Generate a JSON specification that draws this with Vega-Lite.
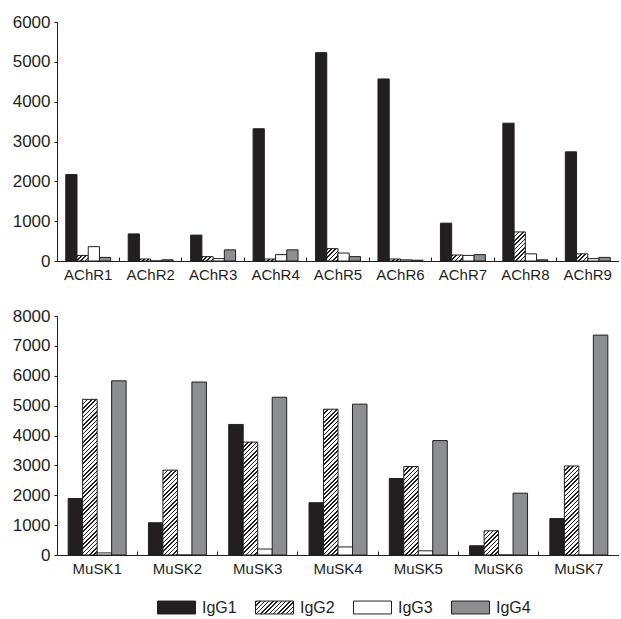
{
 "$schema": "https://vega.github.io/schema/vega-lite/v6.json",
 "padding": {"top": 13, "left": 12, "right": 0, "bottom": 0},
 "background": "white",
 "spacing": 25,
 "params": [
  {"name": "hst", "expr": "[{offset:0,color:'#231f20'},{offset:0.0095,color:'#231f20'},{offset:0.0095,color:'#fff'},{offset:0.025,color:'#fff'},{offset:0.025,color:'#231f20'},{offset:0.0345,color:'#231f20'},{offset:0.0345,color:'#fff'},{offset:0.05,color:'#fff'},{offset:0.05,color:'#231f20'},{offset:0.0595,color:'#231f20'},{offset:0.0595,color:'#fff'},{offset:0.075,color:'#fff'},{offset:0.075,color:'#231f20'},{offset:0.0845,color:'#231f20'},{offset:0.0845,color:'#fff'},{offset:0.1,color:'#fff'},{offset:0.1,color:'#231f20'},{offset:0.1095,color:'#231f20'},{offset:0.1095,color:'#fff'},{offset:0.125,color:'#fff'},{offset:0.125,color:'#231f20'},{offset:0.1345,color:'#231f20'},{offset:0.1345,color:'#fff'},{offset:0.15,color:'#fff'},{offset:0.15,color:'#231f20'},{offset:0.1595,color:'#231f20'},{offset:0.1595,color:'#fff'},{offset:0.175,color:'#fff'},{offset:0.175,color:'#231f20'},{offset:0.1845,color:'#231f20'},{offset:0.1845,color:'#fff'},{offset:0.2,color:'#fff'},{offset:0.2,color:'#231f20'},{offset:0.2095,color:'#231f20'},{offset:0.2095,color:'#fff'},{offset:0.225,color:'#fff'},{offset:0.225,color:'#231f20'},{offset:0.2345,color:'#231f20'},{offset:0.2345,color:'#fff'},{offset:0.25,color:'#fff'},{offset:0.25,color:'#231f20'},{offset:0.2595,color:'#231f20'},{offset:0.2595,color:'#fff'},{offset:0.275,color:'#fff'},{offset:0.275,color:'#231f20'},{offset:0.2845,color:'#231f20'},{offset:0.2845,color:'#fff'},{offset:0.3,color:'#fff'},{offset:0.3,color:'#231f20'},{offset:0.3095,color:'#231f20'},{offset:0.3095,color:'#fff'},{offset:0.325,color:'#fff'},{offset:0.325,color:'#231f20'},{offset:0.3345,color:'#231f20'},{offset:0.3345,color:'#fff'},{offset:0.35,color:'#fff'},{offset:0.35,color:'#231f20'},{offset:0.3595,color:'#231f20'},{offset:0.3595,color:'#fff'},{offset:0.375,color:'#fff'},{offset:0.375,color:'#231f20'},{offset:0.3845,color:'#231f20'},{offset:0.3845,color:'#fff'},{offset:0.4,color:'#fff'},{offset:0.4,color:'#231f20'},{offset:0.4095,color:'#231f20'},{offset:0.4095,color:'#fff'},{offset:0.425,color:'#fff'},{offset:0.425,color:'#231f20'},{offset:0.4345,color:'#231f20'},{offset:0.4345,color:'#fff'},{offset:0.45,color:'#fff'},{offset:0.45,color:'#231f20'},{offset:0.4595,color:'#231f20'},{offset:0.4595,color:'#fff'},{offset:0.475,color:'#fff'},{offset:0.475,color:'#231f20'},{offset:0.4845,color:'#231f20'},{offset:0.4845,color:'#fff'},{offset:0.5,color:'#fff'},{offset:0.5,color:'#231f20'},{offset:0.5095,color:'#231f20'},{offset:0.5095,color:'#fff'},{offset:0.525,color:'#fff'},{offset:0.525,color:'#231f20'},{offset:0.5345,color:'#231f20'},{offset:0.5345,color:'#fff'},{offset:0.55,color:'#fff'},{offset:0.55,color:'#231f20'},{offset:0.5595,color:'#231f20'},{offset:0.5595,color:'#fff'},{offset:0.575,color:'#fff'},{offset:0.575,color:'#231f20'},{offset:0.5845,color:'#231f20'},{offset:0.5845,color:'#fff'},{offset:0.6,color:'#fff'},{offset:0.6,color:'#231f20'},{offset:0.6095,color:'#231f20'},{offset:0.6095,color:'#fff'},{offset:0.625,color:'#fff'},{offset:0.625,color:'#231f20'},{offset:0.6345,color:'#231f20'},{offset:0.6345,color:'#fff'},{offset:0.65,color:'#fff'},{offset:0.65,color:'#231f20'},{offset:0.6595,color:'#231f20'},{offset:0.6595,color:'#fff'},{offset:0.675,color:'#fff'},{offset:0.675,color:'#231f20'},{offset:0.6845,color:'#231f20'},{offset:0.6845,color:'#fff'},{offset:0.7,color:'#fff'},{offset:0.7,color:'#231f20'},{offset:0.7095,color:'#231f20'},{offset:0.7095,color:'#fff'},{offset:0.725,color:'#fff'},{offset:0.725,color:'#231f20'},{offset:0.7345,color:'#231f20'},{offset:0.7345,color:'#fff'},{offset:0.75,color:'#fff'},{offset:0.75,color:'#231f20'},{offset:0.7595,color:'#231f20'},{offset:0.7595,color:'#fff'},{offset:0.775,color:'#fff'},{offset:0.775,color:'#231f20'},{offset:0.7845,color:'#231f20'},{offset:0.7845,color:'#fff'},{offset:0.8,color:'#fff'},{offset:0.8,color:'#231f20'},{offset:0.8095,color:'#231f20'},{offset:0.8095,color:'#fff'},{offset:0.825,color:'#fff'},{offset:0.825,color:'#231f20'},{offset:0.8345,color:'#231f20'},{offset:0.8345,color:'#fff'},{offset:0.85,color:'#fff'},{offset:0.85,color:'#231f20'},{offset:0.8595,color:'#231f20'},{offset:0.8595,color:'#fff'},{offset:0.875,color:'#fff'},{offset:0.875,color:'#231f20'},{offset:0.8845,color:'#231f20'},{offset:0.8845,color:'#fff'},{offset:0.9,color:'#fff'},{offset:0.9,color:'#231f20'},{offset:0.9095,color:'#231f20'},{offset:0.9095,color:'#fff'},{offset:0.925,color:'#fff'},{offset:0.925,color:'#231f20'},{offset:0.9345,color:'#231f20'},{offset:0.9345,color:'#fff'},{offset:0.95,color:'#fff'},{offset:0.95,color:'#231f20'},{offset:0.9595,color:'#231f20'},{offset:0.9595,color:'#fff'},{offset:0.975,color:'#fff'},{offset:0.975,color:'#231f20'},{offset:0.9845,color:'#231f20'},{offset:0.9845,color:'#fff'},{offset:1,color:'#fff'}]"}
 ],
 "datasets": {
  "achr": [
   {"g": "AChR1", "iso": "IgG1", "v": 2170}, {"g": "AChR1", "iso": "IgG2", "v": 140}, {"g": "AChR1", "iso": "IgG3", "v": 360}, {"g": "AChR1", "iso": "IgG4", "v": 90},
   {"g": "AChR2", "iso": "IgG1", "v": 680}, {"g": "AChR2", "iso": "IgG2", "v": 50}, {"g": "AChR2", "iso": "IgG3", "v": 0}, {"g": "AChR2", "iso": "IgG4", "v": 30},
   {"g": "AChR3", "iso": "IgG1", "v": 650}, {"g": "AChR3", "iso": "IgG2", "v": 110}, {"g": "AChR3", "iso": "IgG3", "v": 60}, {"g": "AChR3", "iso": "IgG4", "v": 280},
   {"g": "AChR4", "iso": "IgG1", "v": 3320}, {"g": "AChR4", "iso": "IgG2", "v": 50}, {"g": "AChR4", "iso": "IgG3", "v": 160}, {"g": "AChR4", "iso": "IgG4", "v": 280},
   {"g": "AChR5", "iso": "IgG1", "v": 5230}, {"g": "AChR5", "iso": "IgG2", "v": 310}, {"g": "AChR5", "iso": "IgG3", "v": 200}, {"g": "AChR5", "iso": "IgG4", "v": 110},
   {"g": "AChR6", "iso": "IgG1", "v": 4570}, {"g": "AChR6", "iso": "IgG2", "v": 50}, {"g": "AChR6", "iso": "IgG3", "v": 30}, {"g": "AChR6", "iso": "IgG4", "v": 20},
   {"g": "AChR7", "iso": "IgG1", "v": 950}, {"g": "AChR7", "iso": "IgG2", "v": 150}, {"g": "AChR7", "iso": "IgG3", "v": 140}, {"g": "AChR7", "iso": "IgG4", "v": 160},
   {"g": "AChR8", "iso": "IgG1", "v": 3460}, {"g": "AChR8", "iso": "IgG2", "v": 730}, {"g": "AChR8", "iso": "IgG3", "v": 180}, {"g": "AChR8", "iso": "IgG4", "v": 30},
   {"g": "AChR9", "iso": "IgG1", "v": 2740}, {"g": "AChR9", "iso": "IgG2", "v": 180}, {"g": "AChR9", "iso": "IgG3", "v": 60}, {"g": "AChR9", "iso": "IgG4", "v": 90}
  ],
  "musk": [
   {"g": "MuSK1", "iso": "IgG1", "v": 1890}, {"g": "MuSK1", "iso": "IgG2", "v": 5210}, {"g": "MuSK1", "iso": "IgG3", "v": 70}, {"g": "MuSK1", "iso": "IgG4", "v": 5830},
   {"g": "MuSK2", "iso": "IgG1", "v": 1080}, {"g": "MuSK2", "iso": "IgG2", "v": 2840}, {"g": "MuSK2", "iso": "IgG3", "v": 0}, {"g": "MuSK2", "iso": "IgG4", "v": 5790},
   {"g": "MuSK3", "iso": "IgG1", "v": 4370}, {"g": "MuSK3", "iso": "IgG2", "v": 3780}, {"g": "MuSK3", "iso": "IgG3", "v": 200}, {"g": "MuSK3", "iso": "IgG4", "v": 5280},
   {"g": "MuSK4", "iso": "IgG1", "v": 1750}, {"g": "MuSK4", "iso": "IgG2", "v": 4880}, {"g": "MuSK4", "iso": "IgG3", "v": 270}, {"g": "MuSK4", "iso": "IgG4", "v": 5050},
   {"g": "MuSK5", "iso": "IgG1", "v": 2560}, {"g": "MuSK5", "iso": "IgG2", "v": 2960}, {"g": "MuSK5", "iso": "IgG3", "v": 140}, {"g": "MuSK5", "iso": "IgG4", "v": 3830},
   {"g": "MuSK6", "iso": "IgG1", "v": 310}, {"g": "MuSK6", "iso": "IgG2", "v": 810}, {"g": "MuSK6", "iso": "IgG3", "v": 0}, {"g": "MuSK6", "iso": "IgG4", "v": 2070},
   {"g": "MuSK7", "iso": "IgG1", "v": 1220}, {"g": "MuSK7", "iso": "IgG2", "v": 2980}, {"g": "MuSK7", "iso": "IgG3", "v": 0}, {"g": "MuSK7", "iso": "IgG4", "v": 7360}
  ]
 },
 "config": {
  "font": "Liberation Sans",
  "view": {"stroke": null},
  "axis": {"domainColor": "#231f20", "tickColor": "#231f20", "labelColor": "#231f20", "labelFont": "Liberation Sans", "grid": false, "domainWidth": 1, "tickWidth": 1}
 },
 "vconcat": [
  {
   "width": 562,
   "height": 239,
   "data": {"name": "achr"},
   "mark": {"type": "bar", "stroke": "#231f20", "strokeWidth": 1},
   "encoding": {
    "x": {"field": "g", "type": "nominal", "sort": null, "title": null, "scale": {"paddingInner": 0, "paddingOuter": 0}, "axis": {"labelAngle": 0, "labelFontSize": 15, "bandPosition": 0, "tickSize": -4, "labelPadding": 10}},
    "xOffset": {"field": "iso", "type": "nominal", "scale": {"paddingOuter": 0.78, "paddingInner": 0}},
    "y": {"field": "v", "type": "quantitative", "title": null, "stack": null, "scale": {"domain": [0, 6000]}, "axis": {"values": [0, 1000, 2000, 3000, 4000, 5000, 6000], "format": "d", "labelFontSize": 17, "tickSize": 3, "labelPadding": 4}},
    "fill": {"field": "iso", "type": "nominal", "title": null,
     "condition": {"test": "datum.iso === 'IgG2'", "value": {"expr": "{gradient:'linear',x1:0,y1:0,x2:11.23*170/(126.1+pow(datum.v*239/6000,2)),y2:(datum.v*239/6000)*170/(126.1+pow(datum.v*239/6000,2)),stops:hst}"}},
     "scale": {"domain": ["IgG1", "IgG2", "IgG3", "IgG4"], "range": ["#231f20", {"expr": "{gradient:'linear',x1:0,y1:0,x2:4.01,y2:1.363,stops:hst}"}, "white", "#8d8e91"]},
     "legend": {"orient": "none", "legendX": 100, "legendY": 566, "direction": "horizontal", "columns": 4, "padding": 0, "symbolType": "M-1,-0.34H1V0.34H-1Z", "symbolSize": 1444, "symbolStrokeColor": "#231f20", "symbolStrokeWidth": 1, "symbolOpacity": 1, "labelFontSize": 16, "labelColor": "#231f20", "labelOffset": 6, "columnPadding": 16,
      "encoding": {"symbols": {"stroke": {"value": "#231f20"}, "strokeWidth": {"value": 1}, "opacity": {"value": 1}}}}}
   }
  },
  {
   "width": 562,
   "height": 239,
   "data": {"name": "musk"},
   "mark": {"type": "bar", "stroke": "#231f20", "strokeWidth": 1},
   "encoding": {
    "x": {"field": "g", "type": "nominal", "sort": null, "title": null, "scale": {"paddingInner": 0, "paddingOuter": 0}, "axis": {"labelAngle": 0, "labelFontSize": 15, "bandPosition": 0, "tickSize": -4, "labelPadding": 10}},
    "xOffset": {"field": "iso", "type": "nominal", "scale": {"paddingOuter": 0.77, "paddingInner": 0}},
    "y": {"field": "v", "type": "quantitative", "title": null, "stack": null, "scale": {"domain": [0, 8000]}, "axis": {"values": [0, 1000, 2000, 3000, 4000, 5000, 6000, 7000, 8000], "format": "d", "labelFontSize": 17, "tickSize": 3, "labelPadding": 4}},
    "fill": {"field": "iso", "type": "nominal", "title": null,
     "condition": {"test": "datum.iso === 'IgG2'", "value": {"expr": "{gradient:'linear',x1:0,y1:0,x2:14.49*170/(210+pow(datum.v*239/8000,2)),y2:(datum.v*239/8000)*170/(210+pow(datum.v*239/8000,2)),stops:hst}"}},
     "scale": {"domain": ["IgG1", "IgG2", "IgG3", "IgG4"], "range": ["#231f20", {"expr": "{gradient:'linear',x1:0,y1:0,x2:4.01,y2:1.363,stops:hst}"}, "white", "#8d8e91"]},
     "legend": {"orient": "none", "legendX": 100, "legendY": 566, "direction": "horizontal", "columns": 4, "padding": 0, "symbolType": "M-1,-0.34H1V0.34H-1Z", "symbolSize": 1444, "symbolStrokeColor": "#231f20", "symbolStrokeWidth": 1, "symbolOpacity": 1, "labelFontSize": 16, "labelColor": "#231f20", "labelOffset": 6, "columnPadding": 16,
      "encoding": {"symbols": {"stroke": {"value": "#231f20"}, "strokeWidth": {"value": 1}, "opacity": {"value": 1}}}}}
   }
  }
 ],
 "resolve": {"scale": {"x": "independent", "y": "independent", "xOffset": "independent"}}
}
